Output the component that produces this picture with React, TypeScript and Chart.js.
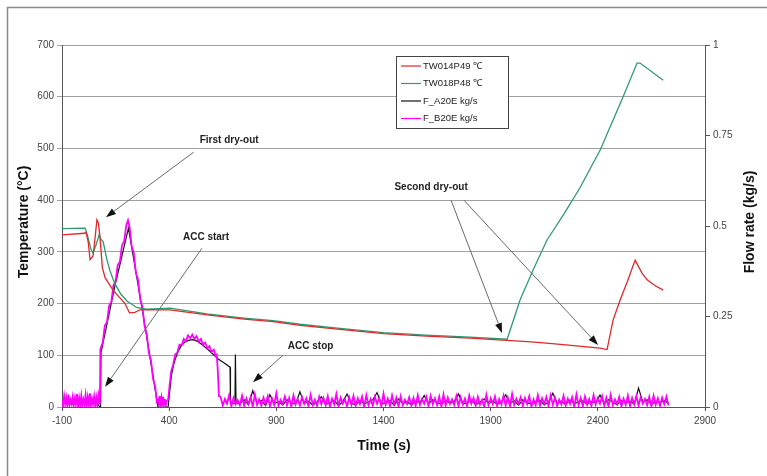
import React, { useEffect, useRef } from "react";
import { Chart, registerables } from "chart.js";

Chart.register(...registerables);

const FONT = "'Liberation Sans', Arial, Helvetica, sans-serif";

// ---- axis ticks ----
const timeTicks = [-100, 400, 900, 1400, 1900, 2400, 2900];
const tempTicks = [0, 100, 200, 300, 400, 500, 600, 700];
const flowTicks = [0, 0.25, 0.5, 0.75, 1];

// ---- series names / colours ----
const seriesNames = ["TW014P49 \u2103", "TW018P48 \u2103", "F_A20E kg/s", "F_B20E kg/s"];
const seriesColors = ["#e0282a", "#2f9a72", "#111111", "#ff00ff"];

// ---- TW014P49 (red) ----
const redTime = [-100, 5, 12, 22, 31, 45, 55, 63, 70, 77, 88, 101, 138, 194, 215, 240, 264, 404, 577, 750, 885, 1011, 1197, 1400, 1600, 1804, 1977, 2090, 2200, 2300, 2410, 2443, 2471, 2504, 2540, 2574, 2606, 2630, 2670, 2705];
const redTemp = [333, 336, 338, 320, 285, 292, 330, 362, 355, 330, 270, 250, 226, 200, 182, 183, 188, 188, 178, 170, 165, 158, 150, 142, 137, 133, 129, 126, 122, 118, 114, 111, 168, 207, 245, 284, 259, 246, 234, 226];

// ---- TW018P48 (green) ----
const greenTime = [-100, 8, 20, 35, 45, 60, 73, 80, 92, 110, 125, 147, 175, 203, 250, 297, 404, 577, 750, 885, 1011, 1197, 1400, 1600, 1804, 1977, 2037, 2098, 2163, 2240, 2318, 2411, 2518, 2583, 2597, 2705];
const greenTemp = [345, 346, 330, 305, 298, 315, 333, 325, 320, 284, 262, 238, 218, 205, 192, 189, 191, 180, 172, 167, 160, 152, 144, 139, 135, 131, 207, 265, 323, 372, 425, 497, 600, 665, 665, 632];

// ---- F_A20E (black) ----
const aPreStart = -95; // sampled every 20 s
const aPreVals = [0.01, 0.018, 0.006, 0.02, 0.012, 0.015, 0.008, 0.022, 0.01];
const aPeakTime = [76, 80, 82, 145, 210, 280, 348, 395];
const aPeakVals = [0, 0, 0.15, 0.33, 0.494, 0.25, 0, 0];
const aArcTime = [402, 410, 420, 430, 445, 460, 475, 490, 511, 530, 550, 570, 590, 610, 630, 650, 670, 684, 686, 700, 707, 709, 712];
const aArcVals = [0.04, 0.085, 0.115, 0.135, 0.158, 0.172, 0.18, 0.184, 0.186, 0.182, 0.174, 0.164, 0.154, 0.143, 0.132, 0.124, 0.116, 0.11, 0.015, 0.01, 0.01, 0.145, 0.01];
const aNoiseStart = 730; // sampled every 20 s
const aNoiseVals = [
  0.01, 0.02, 0.006, 0.045, 0.012, 0.018, 0.004, 0.034, 0.01, 0.015,
  0.006, 0.02, 0.012, 0.008, 0.042, 0.01, 0.016, 0.005, 0.014, 0.028,
  0.008, 0.012, 0.018, 0.004, 0.015, 0.036, 0.01, 0.006, 0.017, 0.009,
  0.014, 0.02, 0.04, 0.008, 0.012, 0.018, 0.005, 0.022, 0.01, 0.014,
  0.006, 0.016, 0.012, 0.032, 0.009, 0.02, 0.013, 0.007, 0.018, 0.011,
  0.015, 0.036, 0.008, 0.012, 0.019, 0.006, 0.014, 0.022, 0.01, 0.016,
  0.008, 0.013, 0.034, 0.01, 0.017, 0.005, 0.02, 0.012, 0.009, 0.015,
  0.018, 0.006, 0.014, 0.038, 0.011, 0.016, 0.007, 0.019, 0.01, 0.013,
  0.017, 0.008, 0.015, 0.012, 0.033, 0.009, 0.02, 0.014, 0.006, 0.018,
  0.011, 0.016, 0.008, 0.052, 0.013, 0.02, 0.007, 0.015, 0.012, 0.018,
  0.01,
];

// ---- F_B20E (magenta) ----
const bPreStart = -100; // sampled every 5 s
const bPreVals = [
  0.022, 0.004, 0.03, 0.008, 0.026, 0.002, 0.034, 0.006, 0.02, 0.009,
  0.028, 0.003, 0.024, 0.007, 0.036, 0.001, 0.025, 0.005, 0.031, 0.004,
  0.021, 0.008, 0.033, 0.002, 0.027, 0.006, 0.038, 0.003, 0.023, 0.007,
  0.029, 0.001, 0.026, 0.005, 0.032, 0.01,
];
const bPeakTime = [77, 79, 90, 100, 110, 120, 130, 140, 150, 160, 170, 180, 190, 200, 208, 216, 225, 235, 245, 255, 265, 275, 285, 295, 305, 315, 325, 335, 342, 348];
const bPeakVals = [0.025, 0.16, 0.178, 0.225, 0.235, 0.28, 0.29, 0.336, 0.347, 0.392, 0.401, 0.447, 0.458, 0.502, 0.516, 0.495, 0.445, 0.425, 0.37, 0.352, 0.297, 0.278, 0.224, 0.204, 0.15, 0.13, 0.077, 0.056, 0.015, 0.02];
const bGapTime = [352, 356, 360, 364, 368, 372, 376, 380, 384, 388];
const bGapVals = [0.004, 0.03, 0.008, 0.025, 0.002, 0.028, 0.006, 0.022, 0.003, 0.018];
const bArcTime = [395, 402, 410, 418, 428, 438, 448, 458, 468, 478, 488, 498, 508, 518, 528, 538, 548, 558, 568, 578, 588, 598, 608, 616, 622, 627, 632];
const bArcVals = [0.02, 0.06, 0.1, 0.115, 0.145, 0.15, 0.172, 0.17, 0.188, 0.182, 0.198, 0.19, 0.2, 0.188, 0.196, 0.18, 0.188, 0.172, 0.178, 0.162, 0.168, 0.152, 0.158, 0.142, 0.145, 0.1, 0.03];
const bNoiseStart = 640; // sampled every 10 s
const bNoiseVals = [
  0.028, 0.004, 0.022, 0.009, 0.033, 0.002, 0.025, 0.007, 0.019, 0.005,
  0.031, 0.003, 0.024, 0.008, 0.027, 0.001, 0.035, 0.006, 0.021, 0.004,
  0.026, 0.009, 0.03, 0.002, 0.023, 0.006, 0.038, 0.003, 0.02, 0.008,
  0.029, 0.005, 0.025, 0.001, 0.032, 0.007, 0.022, 0.004, 0.027, 0.009,
  0.024, 0.002, 0.034, 0.006, 0.02, 0.003, 0.028, 0.008, 0.025, 0.005,
  0.03, 0.001, 0.023, 0.007, 0.036, 0.004, 0.026, 0.009, 0.021, 0.002,
  0.027, 0.006, 0.031, 0.003, 0.024, 0.008, 0.029, 0.001, 0.033, 0.005,
  0.022, 0.004, 0.028, 0.009, 0.025, 0.002, 0.037, 0.006, 0.023, 0.003,
  0.032, 0.007, 0.026, 0.001, 0.03, 0.005, 0.02, 0.008, 0.027, 0.004,
  0.025, 0.003, 0.033, 0.006, 0.022, 0.009, 0.028, 0.002, 0.031, 0.007,
  0.024, 0.005, 0.029, 0.001, 0.035, 0.004, 0.026, 0.008, 0.021, 0.006,
  0.03, 0.002, 0.027, 0.007, 0.023, 0.003, 0.032, 0.009, 0.025, 0.004,
  0.028, 0.006, 0.02, 0.001, 0.034, 0.005, 0.024, 0.008, 0.029, 0.003,
  0.022, 0.007, 0.031, 0.004, 0.026, 0.002, 0.036, 0.006, 0.023, 0.009,
  0.027, 0.003, 0.025, 0.008, 0.03, 0.001, 0.021, 0.005, 0.033, 0.004,
  0.024, 0.009, 0.028, 0.002, 0.032, 0.006, 0.026, 0.003, 0.02, 0.007,
  0.031, 0.004, 0.023, 0.008, 0.027, 0.001, 0.035, 0.005, 0.025, 0.002,
  0.029, 0.006, 0.022, 0.003, 0.033, 0.007, 0.024, 0.009, 0.03, 0.004,
  0.026, 0.001, 0.034, 0.005, 0.021, 0.008, 0.028, 0.002, 0.023, 0.006,
  0.032, 0.003, 0.025, 0.007, 0.03, 0.004, 0.027, 0.009, 0.022, 0.005,
  0.028, 0.002, 0.031, 0.006, 0.024, 0.003, 0.026, 0.008, 0.029, 0.004,
];

// ---- annotations (data coordinates: time, temperature) ----
const annotations = [
  { text: "First dry-out", tx: 680, ty: 516, arrows: [[515, 493, 105, 367]] },
  { text: "ACC start", tx: 572, ty: 329, arrows: [[553, 307, 101, 39]] },
  { text: "ACC stop", tx: 1060, ty: 118, arrows: [[931, 100, 791, 48]] },
  { text: "Second dry-out", tx: 1622, ty: 424, arrows: [[1715, 400, 1953, 143], [1775, 400, 2401, 120]] },
];

const sampled = (start: number, step: number, n: number) => Array.from({ length: n }, (_, i) => start + i * step);
const pts = (t: number[], v: number[]) => t.map((x, i) => ({ x, y: v[i] }));

const flowATime = [...sampled(aPreStart, 20, aPreVals.length), ...aPeakTime, ...aArcTime, ...sampled(aNoiseStart, 20, aNoiseVals.length)];
const flowAVals = [...aPreVals, ...aPeakVals, ...aArcVals, ...aNoiseVals];
const flowBTime = [...sampled(bPreStart, 5, bPreVals.length), ...bPeakTime, ...bGapTime, ...bArcTime, ...sampled(bNoiseStart, 10, bNoiseVals.length)];
const flowBVals = [...bPreVals, ...bPeakVals, ...bGapVals, ...bArcVals, ...bNoiseVals];

function drawArrow(ctx: CanvasRenderingContext2D, x1: number, y1: number, x2: number, y2: number) {
  const ang = Math.atan2(y2 - y1, x2 - x1);
  const len = 10;
  const half = 3.5;
  const bx = x2 - len * Math.cos(ang);
  const by = y2 - len * Math.sin(ang);
  ctx.strokeStyle = "#6a6a6a";
  ctx.lineWidth = 1;
  ctx.beginPath();
  ctx.moveTo(x1, y1);
  ctx.lineTo(bx, by);
  ctx.stroke();
  ctx.fillStyle = "#111";
  ctx.beginPath();
  ctx.moveTo(x2, y2);
  ctx.lineTo(bx + half * Math.sin(ang), by - half * Math.cos(ang));
  ctx.lineTo(bx - half * Math.sin(ang), by + half * Math.cos(ang));
  ctx.closePath();
  ctx.fill();
}

const framePlugin = {
  id: "frame",
  beforeDraw(chart: any) {
    const ctx = chart.ctx as CanvasRenderingContext2D;
    ctx.save();
    ctx.fillStyle = "#ffffff";
    ctx.fillRect(0, 0, chart.width, chart.height);
    ctx.strokeStyle = "#8a8a8a";
    ctx.lineWidth = 1.5;
    ctx.beginPath();
    ctx.moveTo(7.5, chart.height);
    ctx.lineTo(7.5, 7.5);
    ctx.lineTo(chart.width, 7.5);
    ctx.stroke();
    ctx.restore();
  },
};

const annotationPlugin = {
  id: "notes",
  afterDatasetsDraw(chart: any) {
    const ctx = chart.ctx as CanvasRenderingContext2D;
    const xs = chart.scales.x;
    const ys = chart.scales.y;
    ctx.save();
    for (const a of annotations) {
      for (const ar of a.arrows) {
        drawArrow(ctx, xs.getPixelForValue(ar[0]), ys.getPixelForValue(ar[1]), xs.getPixelForValue(ar[2]), ys.getPixelForValue(ar[3]));
      }
      ctx.font = `bold 10px ${FONT}`;
      ctx.fillStyle = "#222";
      ctx.textAlign = "center";
      ctx.textBaseline = "middle";
      ctx.fillText(a.text, xs.getPixelForValue(a.tx), ys.getPixelForValue(a.ty));
    }
    ctx.restore();
  },
};

const legendTitlesPlugin = {
  id: "legendTitles",
  afterDraw(chart: any) {
    const ctx = chart.ctx as CanvasRenderingContext2D;
    ctx.save();
    // legend
    const lx = 396, ly = 56, lw = 112, lh = 72;
    ctx.fillStyle = "#fff";
    ctx.fillRect(lx, ly, lw, lh);
    ctx.strokeStyle = "#444";
    ctx.lineWidth = 1;
    ctx.strokeRect(lx + 0.5, ly + 0.5, lw, lh);
    ctx.font = `9.5px ${FONT}`;
    ctx.textAlign = "left";
    ctx.textBaseline = "middle";
    seriesNames.forEach((name, i) => {
      const yy = ly + 10 + i * 17.5;
      ctx.strokeStyle = seriesColors[i];
      ctx.lineWidth = 1.2;
      ctx.beginPath();
      ctx.moveTo(lx + 5, yy);
      ctx.lineTo(lx + 25, yy);
      ctx.stroke();
      ctx.fillStyle = "#222";
      ctx.fillText(name, lx + 27, yy);
    });
    // axis titles
    ctx.fillStyle = "#111";
    ctx.textAlign = "center";
    ctx.textBaseline = "middle";
    ctx.font = `bold 14px ${FONT}`;
    ctx.save();
    ctx.translate(24, 222);
    ctx.rotate(-Math.PI / 2);
    ctx.fillText("Temperature (\u00b0C)", 0, 0);
    ctx.restore();
    ctx.save();
    ctx.translate(750, 222);
    ctx.rotate(-Math.PI / 2);
    ctx.fillText("Flow rate (kg/s)", 0, 0);
    ctx.restore();
    ctx.font = `bold 14px ${FONT}`;
    ctx.fillText("Time (s)", 384, 446);
    ctx.restore();
  },
};

export default function App() {
  const ref = useRef<HTMLCanvasElement | null>(null);
  useEffect(() => {
    if (!ref.current) return;
    const tickFont = { family: FONT, size: 10 };
    const chart = new Chart(ref.current, {
      type: "line",
      data: {
        datasets: [
          { label: seriesNames[0], data: pts(redTime, redTemp), borderColor: seriesColors[0], borderWidth: 1.3, yAxisID: "y", order: 0 },
          { label: seriesNames[1], data: pts(greenTime, greenTemp), borderColor: seriesColors[1], borderWidth: 1.3, yAxisID: "y", order: 1 },
          { label: seriesNames[2], data: pts(flowATime, flowAVals), borderColor: seriesColors[2], borderWidth: 1.2, yAxisID: "y1", order: 3 },
          { label: seriesNames[3], data: pts(flowBTime, flowBVals), borderColor: seriesColors[3], borderWidth: 1.8, yAxisID: "y1", order: 2 },
        ],
      },
      options: {
        responsive: false,
        animation: false,
        devicePixelRatio: 1,
        layout: { padding: { top: 45, left: 0, right: 0, bottom: 0 } },
        elements: { point: { radius: 0 }, line: { tension: 0 } },
        plugins: { legend: { display: false }, tooltip: { enabled: false }, title: { display: false } },
        scales: {
          x: {
            type: "linear",
            min: -100,
            max: 2900,
            afterBuildTicks: (s: any) => { s.ticks = timeTicks.map((v) => ({ value: v })); },
            afterFit: (s: any) => { s.height = 69; },
            grid: { drawOnChartArea: false, drawTicks: true, tickLength: 4, color: "#555" },
            border: { display: true, color: "#555", width: 1 },
            ticks: { font: tickFont, color: "#444", padding: 4, maxRotation: 0, autoSkip: false, callback: (v: any) => String(v) },
          },
          y: {
            type: "linear",
            position: "left",
            min: 0,
            max: 700,
            afterBuildTicks: (s: any) => { s.ticks = tempTicks.map((v) => ({ value: v })); },
            afterFit: (s: any) => { s.width = 62; },
            grid: { color: "#a0a0a0", lineWidth: 1, tickLength: 5, drawTicks: true },
            border: { display: true, color: "#555", width: 1 },
            ticks: { font: tickFont, color: "#444", padding: 3, callback: (v: any) => String(v) },
          },
          y1: {
            type: "linear",
            position: "right",
            min: 0,
            max: 1,
            afterBuildTicks: (s: any) => { s.ticks = flowTicks.map((v) => ({ value: v })); },
            afterFit: (s: any) => { s.width = 62; },
            grid: { drawOnChartArea: false, tickLength: 5, color: "#555" },
            border: { display: true, color: "#555", width: 1 },
            ticks: { font: tickFont, color: "#444", padding: 3, callback: (v: any) => String(v) },
          },
        },
      },
      plugins: [framePlugin, annotationPlugin, legendTitlesPlugin],
    } as any);
    return () => chart.destroy();
  }, []);
  return (
    <div style={{ position: "absolute", left: 0, top: 0, width: 767, height: 476 }}>
      <canvas ref={ref} width={767} height={476} style={{ display: "block", width: 767, height: 476 }} />
    </div>
  );
}
